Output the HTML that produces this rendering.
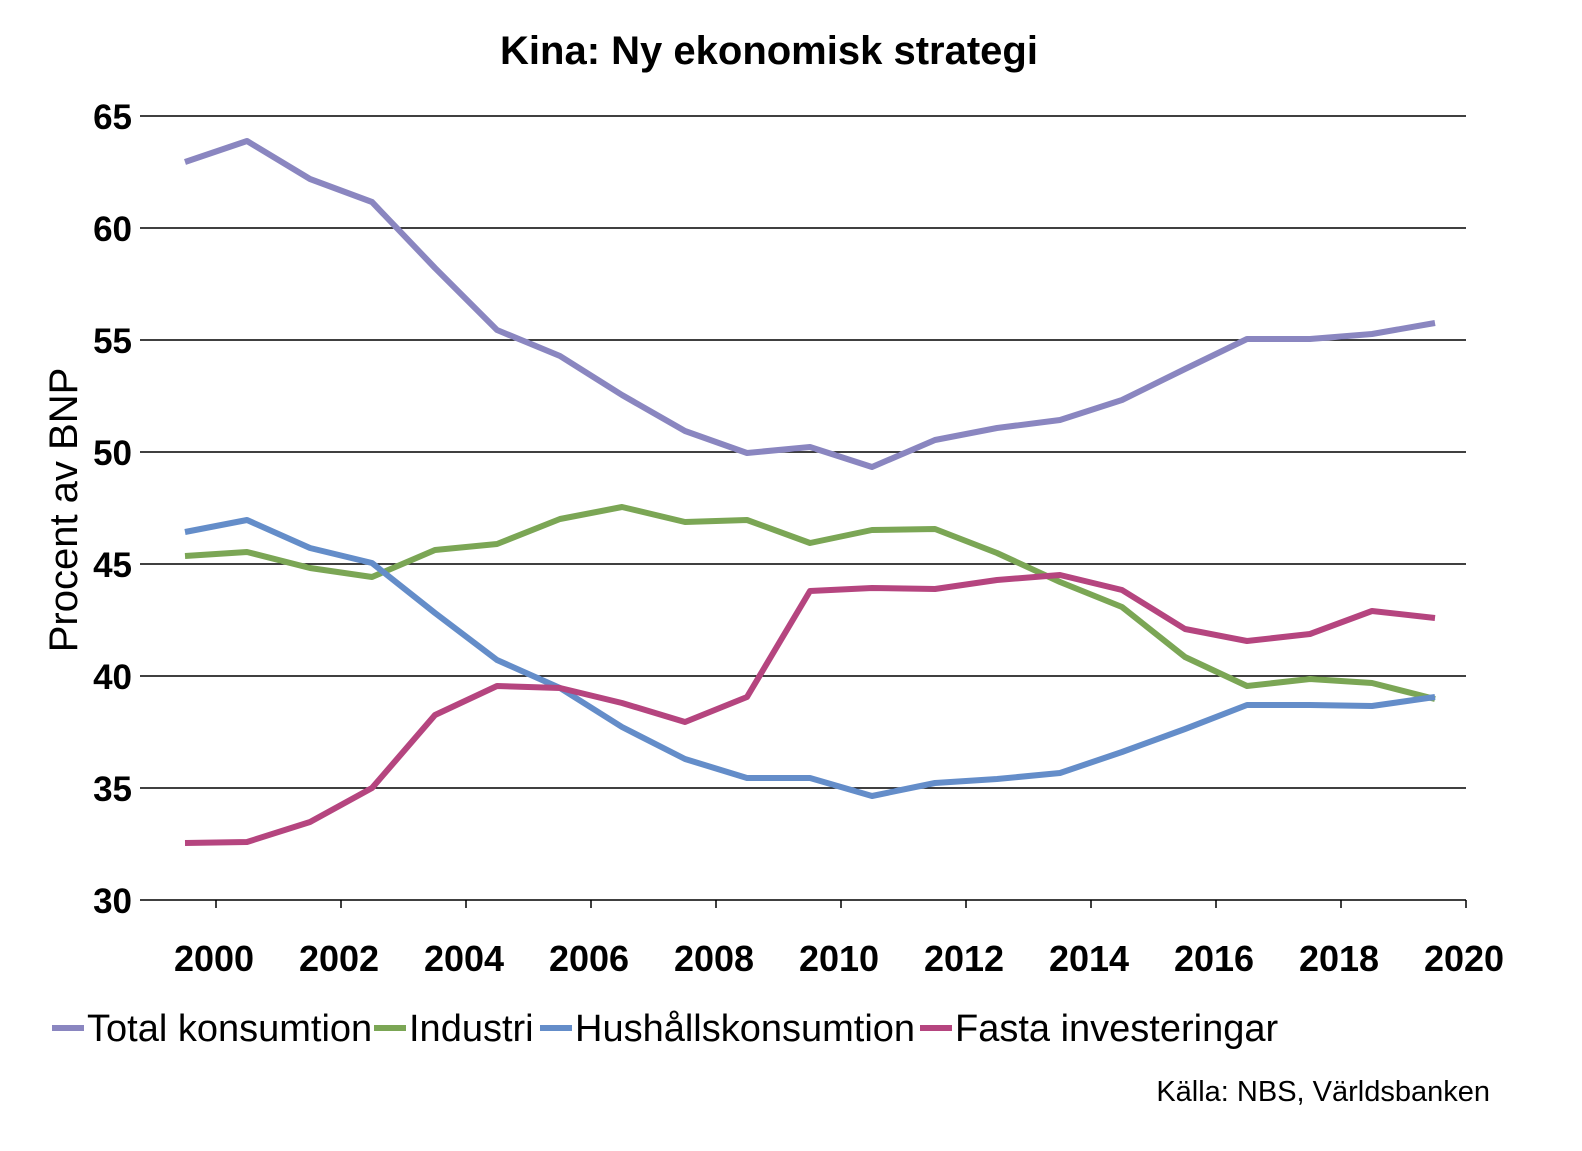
<!DOCTYPE html>
<html><head><meta charset="utf-8"><style>body{margin:0;background:#fff}</style></head><body>
<svg width="1582" height="1146" xmlns="http://www.w3.org/2000/svg" font-family="Liberation Sans, Arial, sans-serif">
<rect width="1582" height="1146" fill="#fff"/>
<text x="769" y="64" text-anchor="middle" font-size="40" font-weight="bold">Kina: Ny ekonomisk strategi</text>
<g stroke="#000" stroke-width="1.5">
<line x1="140" y1="116" x2="1466" y2="116"/><line x1="140" y1="228" x2="1466" y2="228"/>
<line x1="140" y1="340" x2="1466" y2="340"/><line x1="140" y1="452" x2="1466" y2="452"/>
<line x1="140" y1="564" x2="1466" y2="564"/><line x1="140" y1="676" x2="1466" y2="676"/>
<line x1="140" y1="788" x2="1466" y2="788"/><line x1="140" y1="900" x2="1466" y2="900"/>
<line x1="216" y1="900" x2="216" y2="908"/><line x1="341" y1="900" x2="341" y2="908"/>
<line x1="466" y1="900" x2="466" y2="908"/><line x1="591" y1="900" x2="591" y2="908"/>
<line x1="716" y1="900" x2="716" y2="908"/><line x1="841" y1="900" x2="841" y2="908"/>
<line x1="966" y1="900" x2="966" y2="908"/><line x1="1091" y1="900" x2="1091" y2="908"/>
<line x1="1216" y1="900" x2="1216" y2="908"/><line x1="1341" y1="900" x2="1341" y2="908"/>
<line x1="1466" y1="900" x2="1466" y2="908"/>
</g>
<g font-size="35" font-weight="bold" text-anchor="end">
<text x="132" y="129">65</text><text x="132" y="241">60</text><text x="132" y="353">55</text>
<text x="132" y="465">50</text><text x="132" y="577">45</text><text x="132" y="689">40</text>
<text x="132" y="801">35</text><text x="132" y="913">30</text>
</g>
<g font-size="36" font-weight="bold" text-anchor="middle">
<text x="214" y="971">2000</text><text x="339" y="971">2002</text><text x="464" y="971">2004</text>
<text x="589" y="971">2006</text><text x="714" y="971">2008</text><text x="839" y="971">2010</text>
<text x="964" y="971">2012</text><text x="1089" y="971">2014</text><text x="1214" y="971">2016</text>
<text x="1339" y="971">2018</text><text x="1464" y="971">2020</text>
</g>
<text transform="translate(77,510) rotate(-90)" text-anchor="middle" font-size="40">Procent av BNP</text>
<g fill="none" stroke-width="6" stroke-linejoin="round">
<polyline stroke="#8a86c0" points="185,162 247,141 310,179 372,202 435,268 497,330 560,356 622,395 685,431 747,453 810,447 872,467 935,440 997,428 1060,420 1122,400 1185,369 1247,339 1310,339 1372,334 1435,323"/>
<polyline stroke="#7ba655" points="185,556 247,552 310,568 372,577 435,550 497,544 560,519 622,507 685,522 747,520 810,543 872,530 935,529 997,553 1060,582 1122,607 1185,657 1247,686 1310,679 1372,683 1435,699"/>
<polyline stroke="#648dc9" points="185,532 247,520 310,548 372,563 435,613 497,660 560,688 622,727 685,759 747,778 810,778 872,796 935,783 997,779 1060,773 1122,752 1185,729 1247,705 1310,705 1372,706 1435,697"/>
<polyline stroke="#b5457f" points="185,843 247,842 310,822 372,788 435,715 497,686 560,688 622,703 685,722 747,697 810,591 872,588 935,589 997,580 1060,575 1122,590 1185,629 1247,641 1310,634 1372,611 1435,618"/>
</g>
<g stroke-width="6">
<line x1="52" y1="1028" x2="84" y2="1028" stroke="#8a86c0"/>
<line x1="374" y1="1028" x2="406" y2="1028" stroke="#7ba655"/>
<line x1="540" y1="1028" x2="572" y2="1028" stroke="#648dc9"/>
<line x1="920" y1="1028" x2="952" y2="1028" stroke="#b5457f"/>
</g>
<g font-size="38">
<text x="87" y="1041">Total konsumtion</text>
<text x="409" y="1041">Industri</text>
<text x="575" y="1041">Hushållskonsumtion</text>
<text x="955" y="1041">Fasta investeringar</text>
</g>
<text x="1490" y="1101" text-anchor="end" font-size="29">Källa: NBS, Världsbanken</text>
</svg>
</body></html>
